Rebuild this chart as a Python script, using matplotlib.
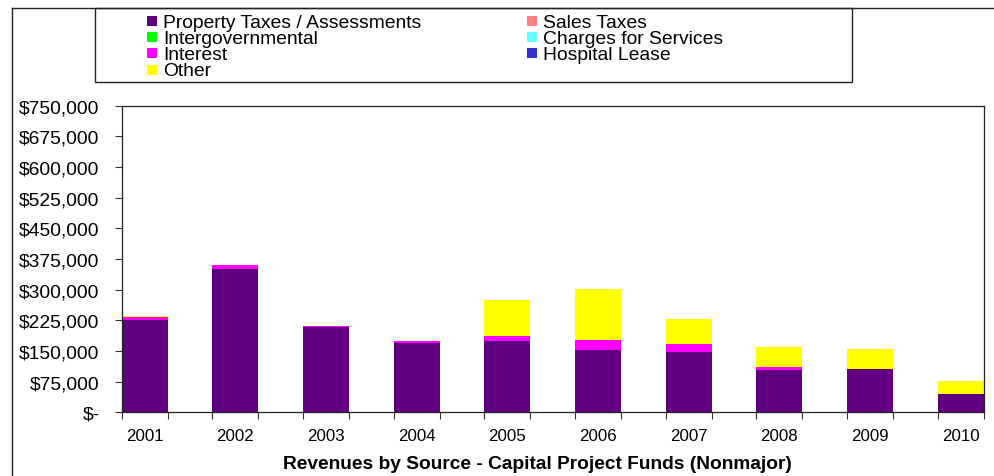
import matplotlib.pyplot as plt
from matplotlib.patches import Rectangle
from matplotlib.lines import Line2D
from matplotlib.ticker import FuncFormatter, FixedLocator
import numpy as np

plt.rcParams['font.family'] = ['Liberation Sans', 'DejaVu Sans']

# Data
years = ['2001', '2002', '2003', '2004', '2005', '2006', '2007', '2008', '2009', '2010']
property_taxes = [225500, 350000, 208500, 169000, 174000, 152000, 147000, 103000, 106000, 45000]
sales_taxes = [0, 0, 0, 0, 0, 0, 0, 0, 0, 0]
intergovernmental = [0, 0, 0, 0, 0, 0, 0, 0, 0, 0]
charges = [0, 0, 0, 0, 0, 0, 0, 0, 0, 0]
interest = [8000, 10000, 2500, 5500, 12000, 25000, 20000, 8000, 0, 0]
hospital_lease = [0, 0, 0, 0, 0, 0, 0, 0, 0, 0]
other = [1500, 0, 0, 0, 88500, 125000, 61000, 49000, 49000, 31500]

series = [
    ('Property Taxes / Assessments', property_taxes, '#600080'),
    ('Sales Taxes', sales_taxes, '#ff8080'),
    ('Intergovernmental', intergovernmental, '#00ff00'),
    ('Charges for Services', charges, '#66ffff'),
    ('Interest', interest, '#ff00ff'),
    ('Hospital Lease', hospital_lease, '#3333cc'),
    ('Other', other, '#ffff00'),
]

W, H = 995, 477
fig = plt.figure(figsize=(W / 100, H / 100), dpi=100)


def fx(px):
    return px / W


def fy(py):
    return 1 - py / H


ax = fig.add_axes([fx(121.7), fy(413.3), fx(983.7) - fx(121.7), fy(106.7) - fy(413.3)])

x = np.arange(len(years))
bw = 0.507
bottom = np.zeros(len(years))
for name, vals, col in series:
    vals = np.array(vals, dtype=float)
    ax.bar(x, vals, bw, bottom=bottom, color=col, align='edge', linewidth=0)
    bottom += vals

ax.set_xlim(0, len(years) - 1 + bw)
ax.set_ylim(0, 750000)
ax.set_yticks(np.arange(0, 750001, 75000))
ax.yaxis.set_major_formatter(FuncFormatter(lambda v, p: '$-' if v == 0 else f'${v:,.0f}'))
ax.tick_params(axis='y', labelsize=13.9, length=5, width=0.8, color='#333333', pad=11)

edges = sorted(list(x) + list(x + bw))
ax.xaxis.set_major_locator(FixedLocator(edges))
ax.xaxis.set_major_formatter(FuncFormatter(lambda v, p: ''))
ax.xaxis.set_minor_locator(FixedLocator(x + bw / 2))
ax.set_xticklabels(years, minor=True)
ax.tick_params(axis='x', which='major', length=5, width=0.8, color='#333333')
ax.tick_params(axis='x', which='minor', length=0, labelsize=12.2, pad=11)

for s in ax.spines.values():
    s.set_color('#222222')
    s.set_linewidth(0.9)

fig.text(fx(537), fy(465), 'Revenues by Source - Capital Project Funds (Nonmajor)',
         ha='center', va='center', fontsize=13.8, fontweight='bold')

# outer chart frame (left and top edges visible)
fig.add_artist(Line2D([fx(11.7), fx(11.7)], [0, fy(9)], transform=fig.transFigure, color='#222222', lw=1))
fig.add_artist(Line2D([fx(11.7), 1], [fy(9), fy(9)], transform=fig.transFigure, color='#222222', lw=1))

# legend box
fig.add_artist(Rectangle((fx(95), fy(83)), fx(852) - fx(95), fy(9) - fy(83),
                         transform=fig.transFigure, fill=False, edgecolor='#222222', lw=1))
legend_pos = [(147, 0), (527, 0), (147, 1), (527, 1), (147, 2), (527, 2), (147, 3)]
row_y = [22.3, 38.3, 54.3, 70.8]
for (name, vals, col), (lx, r) in zip(series, legend_pos):
    cy = row_y[r]
    fig.add_artist(Rectangle((fx(lx), fy(cy + 5)), fx(10), 10 / H,
                             transform=fig.transFigure, facecolor=col, edgecolor='none'))
    fig.text(fx(lx + 16), fy(cy + 5.5), name, ha='left', va='baseline', fontsize=13.9)

fig.savefig('out.png', dpi=100)
